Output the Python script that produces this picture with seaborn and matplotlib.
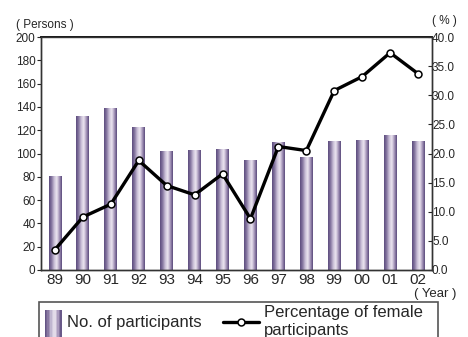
import numpy as np
import pandas as pd
import seaborn as sns
import matplotlib.pyplot as plt
from matplotlib.colors import LinearSegmentedColormap
from matplotlib.lines import Line2D
from matplotlib.patches import Rectangle
from matplotlib.legend_handler import HandlerBase

# values
years = ["89", "90", "91", "92", "93", "94", "95", "96", "97", "98", "99", "00", "01", "02"]
participants = [81, 132, 139, 123, 102, 103, 104, 94, 110, 97, 111, 112, 116, 111]
female_pct = [3.5, 9.1, 11.3, 18.8, 14.5, 12.9, 16.5, 8.8, 21.2, 20.5, 30.8, 33.2, 37.3, 33.7]

df = pd.DataFrame({"year": years, "participants": participants, "pct": female_pct})

sns.set_style("white")
plt.rcParams["font.family"] = ["Liberation Sans", "DejaVu Sans"]

fig = plt.figure(figsize=(4.68, 3.37), dpi=100)
ax = fig.add_axes([41 / 468, 1 - 270 / 337, 391 / 468, 233 / 337])

sns.barplot(data=df, x="year", y="participants", ax=ax, width=0.46,
            color="#8a7aa0", edgecolor="none", linewidth=0)

# cylinder-like gradient on each bar
grad = LinearSegmentedColormap.from_list(
    "bar", ["#5c4c7e", "#8676a0", "#c8bed6", "#ece6f0", "#a898bc", "#5a4a7c"])
g = np.linspace(0, 1, 64).reshape(1, -1)
for p in ax.patches:
    x0, y0 = p.get_x(), p.get_y()
    w, h = p.get_width(), p.get_height()
    im = ax.imshow(g, cmap=grad, aspect="auto", extent=[x0, x0 + w, y0, y0 + h],
                   zorder=2, interpolation="bilinear")
    im.set_clip_path(p)
    p.set_facecolor("none")

ax.set_xlim(-0.5, len(years) - 0.5)
ax.set_ylim(0, 200)
ax.set_yticks(range(0, 201, 20))
ax.set_xlabel("")
ax.set_ylabel("")
ax.tick_params(axis="y", labelsize=8.5, length=3, width=0.8, pad=1, direction="out", left=True)
ax.tick_params(axis="x", labelsize=11, length=0, pad=2)

ax2 = ax.twinx()
sns.lineplot(x=np.arange(len(years)), y=female_pct, ax=ax2, color="black", linewidth=2.4,
             marker="o", markersize=5, markerfacecolor="white", markeredgecolor="black",
             markeredgewidth=1.1, zorder=5)
ax2.set_ylim(0, 40)
ax2.set_yticks(np.arange(0, 40.1, 5))
ax2.set_yticklabels([f"{v:.1f}" for v in np.arange(0, 40.1, 5)])
ax2.tick_params(axis="y", labelsize=8.5, length=3, width=0.8, pad=0, direction="in", right=True)
ax2.set_xlim(-0.5, len(years) - 0.5)

for a in (ax, ax2):
    for s in a.spines.values():
        s.set_visible(True)
        s.set_color("#333333")
        s.set_linewidth(1.0)
ax.spines["top"].set_color("black")
ax.spines["top"].set_linewidth(1.3)

fig.text(16 / 468, 1 - 25 / 337, "( Persons )", fontsize=8.5, va="center", ha="left")
fig.text(444 / 468, 1 - 21 / 337, "( % )", fontsize=8.5, va="center", ha="center")
fig.text(435 / 468, 1 - 294 / 337, "( Year )", fontsize=9.5, va="center", ha="center")


class GradientBar(HandlerBase):
    # narrow striped rectangle mimicking the bar gradient
    def create_artists(self, legend, orig_handle, xdescent, ydescent, width, height,
                       fontsize, trans):
        bw, n = 12, 12
        x = -xdescent + (width - bw) / 2
        arts = []
        for i in range(n):
            arts.append(Rectangle((x + i * bw / n, -ydescent - 20), bw / n + 0.3, height + 24,
                                  transform=trans, facecolor=grad((i + 0.5) / n),
                                  edgecolor="none"))
        return arts


class LongLine(HandlerBase):
    def create_artists(self, legend, orig_handle, xdescent, ydescent, width, height,
                       fontsize, trans):
        y = -ydescent + height / 2
        x0, x1 = -xdescent - 13, -xdescent + width
        ln = Line2D([x0, x1], [y, y], color="black", linewidth=2.4, transform=trans)
        mk = Line2D([(x0 + x1) / 2], [y], marker="o", markersize=5, markerfacecolor="white",
                    markeredgecolor="black", markeredgewidth=1.1, linestyle="", transform=trans)
        return [ln, mk]


bar_handle = Rectangle((0, 0), 1, 1)
line_handle = Line2D([], [])
leg = fig.legend([bar_handle, line_handle],
                 ["No. of participants", "Percentage of female\nparticipants"],
                 handler_map={Rectangle: GradientBar(), Line2D: LongLine()},
                 loc="upper left", bbox_to_anchor=(44 / 468, 1 - 305 / 337),
                 ncol=2, fontsize=12, frameon=False,
                 borderaxespad=0, handlelength=1.08, handleheight=0.7, handletextpad=0.3,
                 columnspacing=2.34, labelspacing=0.2, borderpad=0)
for t in leg.get_texts():
    t.set_linespacing(1.25)

# legend frame, cut by the lower edge of the figure as in the reference
fig.patches.append(Rectangle((39 / 468, -0.05), 399 / 468, 0.05 + 35 / 337,
                             transform=fig.transFigure, facecolor="none",
                             edgecolor="#555555", linewidth=1.2))

plt.savefig("out.png", dpi=100)
